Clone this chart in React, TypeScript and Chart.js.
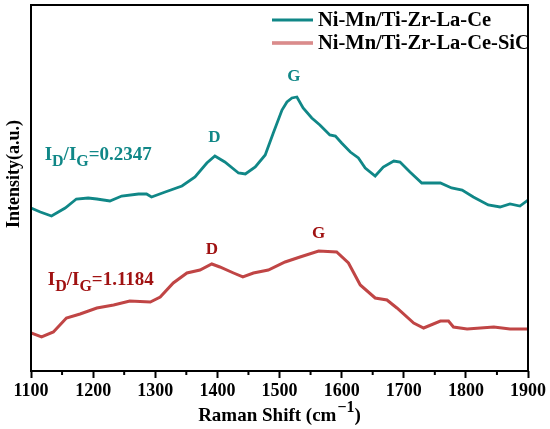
import { useEffect, useRef } from "react";
import { Chart, registerables } from "chart.js";

Chart.register(...registerables);

const SERIF = '"Liberation Serif", "Times New Roman", serif';

const tealShift = [1100, 1115, 1133, 1155, 1173, 1192, 1206, 1227, 1246, 1273, 1286, 1294, 1316, 1343, 1364, 1383, 1396, 1412, 1434, 1445, 1461, 1477, 1490, 1504, 1512, 1520, 1528, 1538, 1552, 1565, 1581, 1590, 1600, 1614, 1627, 1638, 1654, 1667, 1684, 1694, 1710, 1729, 1759, 1777, 1794, 1812, 1836, 1855, 1871, 1887, 1900];
const tealIntensity = [163, 159, 155, 163, 172, 173, 172, 170, 175, 177, 177, 174, 179, 185, 194, 208, 215, 209, 198, 197, 204, 216, 238, 261, 269, 273, 274, 263, 253, 246, 236, 235, 228, 219, 213, 203, 195, 204, 210, 209, 199, 188, 188, 183, 181, 174, 166, 164, 167, 165, 171];

const redShift = [1100, 1117, 1136, 1157, 1179, 1206, 1233, 1259, 1292, 1308, 1329, 1351, 1372, 1391, 1404, 1426, 1441, 1458, 1482, 1509, 1533, 1563, 1592, 1611, 1630, 1654, 1673, 1689, 1716, 1732, 1759, 1772, 1780, 1802, 1845, 1871, 1900];
const redIntensity = [38, 34, 39, 53, 57, 63, 66, 70, 69, 74, 88, 98, 101, 107, 104, 98, 94, 98, 101, 109, 114, 120, 119, 108, 86, 73, 71, 63, 48, 43, 50, 50, 44, 42, 44, 42, 42];

const seriesNames = ["Ni-Mn/Ti-Zr-La-Ce", "Ni-Mn/Ti-Zr-La-Ce-SiC"];
const minorTicks = [1150, 1250, 1350, 1450, 1550, 1650, 1750, 1850];

const TEAL = "#108787";
const RED_LINE = "#c04545";
const RED_INNER = "#f5d2d2";
const RED_TEXT = "#a01212";

// peak labels: [text, shift, intensity, color]
const peakLabels: [string, number, number, string][] = [
  ["D", 1395, 233, TEAL],
  ["G", 1523, 294, TEAL],
  ["D", 1391, 121, RED_TEXT],
  ["G", 1563, 137, RED_TEXT],
];
// ratio labels: [value, shift(start), intensity(baseline), color]
const ratioLabels: [string, number, number, string][] = [
  ["=0.2347", 1122, 211, TEAL],
  ["=1.1184", 1127, 86, RED_TEXT],
];

const toPoints = (xs: number[], ys: number[]) => xs.map((x, i) => ({ x, y: ys[i] }));

const decorPlugin = {
  id: "decor",
  afterDraw(chart: any) {
    const { ctx, chartArea } = chart;
    const xs = chart.scales.x;
    const ys = chart.scales.y;
    const { left, right, top, bottom } = chartArea;
    ctx.save();
    // frame
    ctx.strokeStyle = "#000";
    ctx.lineWidth = 2;
    ctx.strokeRect(left, top, right - left, bottom - top);
    // minor ticks
    ctx.lineWidth = 2;
    for (const v of minorTicks) {
      const px = xs.getPixelForValue(v);
      ctx.beginPath();
      ctx.moveTo(px, bottom);
      ctx.lineTo(px, bottom + 4);
      ctx.stroke();
    }
    // x title with superscript
    ctx.fillStyle = "#000";
    ctx.textBaseline = "alphabetic";
    ctx.textAlign = "left";
    const f1 = `bold 19px ${SERIF}`;
    const f2 = `bold 16px ${SERIF}`;
    ctx.font = f1;
    const a = "Raman Shift (cm";
    const c = ")";
    const wa = ctx.measureText(a).width;
    const wc = ctx.measureText(c).width;
    ctx.font = f2;
    const b = "\u22121";
    const wb = ctx.measureText(b).width;
    const total = wa + wb + wc + 1;
    const sx = (left + right) / 2 - total / 2;
    const by = 421;
    ctx.font = f1;
    ctx.fillText(a, sx, by);
    ctx.font = f2;
    ctx.fillText(b, sx + wa + 1, by - 9);
    ctx.font = f1;
    ctx.fillText(c, sx + wa + wb + 1, by);
    // y title
    ctx.save();
    ctx.translate(14, 174);
    ctx.rotate(-Math.PI / 2);
    ctx.font = `bold 18px ${SERIF}`;
    ctx.textAlign = "center";
    ctx.textBaseline = "middle";
    ctx.fillText("Intensity(a.u.)", 0, 0);
    ctx.restore();
    // legend
    const legendRows = [
      { y: 20, name: seriesNames[0], kind: "teal" },
      { y: 43, name: seriesNames[1], kind: "red" },
    ];
    for (const r of legendRows) {
      if (r.kind === "teal") {
        ctx.strokeStyle = TEAL;
        ctx.lineWidth = 2.8;
        ctx.beginPath();
        ctx.moveTo(272, r.y);
        ctx.lineTo(313, r.y);
        ctx.stroke();
      } else {
        ctx.strokeStyle = RED_LINE;
        ctx.lineWidth = 3;
        ctx.beginPath();
        ctx.moveTo(272, r.y);
        ctx.lineTo(313, r.y);
        ctx.stroke();
        ctx.strokeStyle = RED_INNER;
        ctx.lineWidth = 1;
        ctx.beginPath();
        ctx.moveTo(272, r.y);
        ctx.lineTo(313, r.y);
        ctx.stroke();
      }
      ctx.fillStyle = "#000";
      ctx.font = `bold 20.5px ${SERIF}`;
      ctx.textAlign = "left";
      ctx.textBaseline = "middle";
      ctx.fillText(r.name, 318, r.y + 1);
    }
    // peak labels
    for (const [t, x, y, col] of peakLabels) {
      ctx.fillStyle = col;
      ctx.font = `bold 17px ${SERIF}`;
      ctx.textAlign = "center";
      ctx.textBaseline = "middle";
      ctx.fillText(t, xs.getPixelForValue(x), ys.getPixelForValue(y));
    }
    // ratio labels
    for (const [val, x, y, col] of ratioLabels) {
      ctx.fillStyle = col;
      ctx.textAlign = "left";
      ctx.textBaseline = "alphabetic";
      let px = xs.getPixelForValue(x);
      const py = ys.getPixelForValue(y);
      const big = `bold 19px ${SERIF}`;
      const sub = `bold 16px ${SERIF}`;
      const parts: [string, string, number][] = [
        ["I", big, 0],
        ["D", sub, 6],
        ["/I", big, 0],
        ["G", sub, 6],
        [val, big, 0],
      ];
      for (const [s, f, dy] of parts) {
        ctx.font = f;
        ctx.fillText(s, px, py + dy);
        px += ctx.measureText(s).width;
      }
    }
    ctx.restore();
  },
};

export default function App() {
  const ref = useRef<HTMLCanvasElement | null>(null);
  useEffect(() => {
    document.body.style.margin = "0";
    const canvas = ref.current;
    if (!canvas) return;
    const chart = new Chart(canvas, {
      type: "line",
      data: {
        datasets: [
          {
            label: seriesNames[0],
            data: toPoints(tealShift, tealIntensity),
            borderColor: TEAL,
            borderWidth: 2.8,
            pointRadius: 0,
            tension: 0,
            fill: false,
          },
          {
            label: seriesNames[1],
            data: toPoints(redShift, redIntensity),
            borderColor: RED_LINE,
            borderWidth: 3,
            pointRadius: 0,
            tension: 0,
            fill: false,
          },
          {
            label: seriesNames[1] + " inner",
            data: toPoints(redShift, redIntensity),
            borderColor: RED_INNER,
            borderWidth: 1,
            pointRadius: 0,
            tension: 0,
            fill: false,
          },
        ],
      },
      options: {
        responsive: false,
        animation: false,
        devicePixelRatio: 1,
        layout: { padding: { left: 31, right: 22, top: 5, bottom: 0 } },
        plugins: {
          legend: { display: false },
          tooltip: { enabled: false },
          title: { display: false },
        },
        scales: {
          x: {
            type: "linear",
            min: 1100,
            max: 1900,
            afterFit: (s: any) => {
              s.height = 58;
            },
            border: { display: false },
            grid: {
              drawOnChartArea: false,
              tickLength: 7,
              tickWidth: 2,
              tickColor: (c: any) => (c.tick && c.tick.value % 100 === 0 ? "#000" : "rgba(0,0,0,0)"),
            },
            ticks: {
              stepSize: 50,
              autoSkip: false,
              maxRotation: 0,
              padding: 3,
              color: "#000",
              font: { family: SERIF, size: 18, weight: "bold" },
              callback: (v: any) => (Number(v) % 100 === 0 ? String(v) : ""),
            },
          },
          y: {
            display: false,
            min: 0,
            max: 366,
          },
        },
      },
      plugins: [decorPlugin],
    } as any);
    return () => chart.destroy();
  }, []);
  return (
    <div style={{ width: 550, height: 429 }}>
      <canvas ref={ref} width={550} height={429} style={{ width: 550, height: 429, display: "block" }} />
    </div>
  );
}
